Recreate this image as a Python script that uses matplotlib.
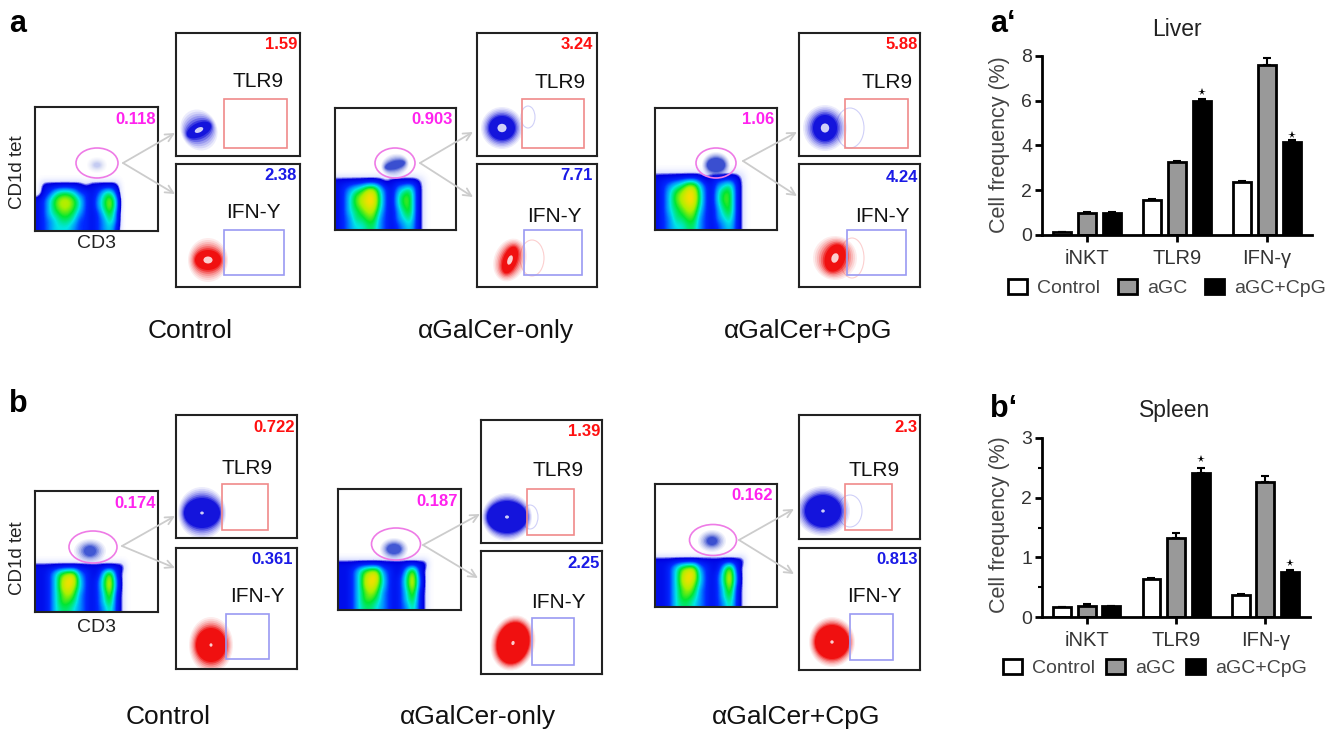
import numpy as np
import matplotlib
matplotlib.use('Agg')
import matplotlib.pyplot as plt
from matplotlib.colors import LinearSegmentedColormap
from matplotlib.patches import Ellipse, Rectangle

W, H = 1338, 733
plt.rcParams['font.family'] = ['Liberation Sans', 'DejaVu Sans']

# Bar chart values
groups = ['iNKT', 'TLR9', 'IFN-γ']
series = ['Control', 'aGC', 'aGC+CpG']
liver_control = [0.12, 1.55, 2.35]
liver_agc = [1.0, 3.25, 7.6]
liver_cpg = [1.0, 6.0, 4.15]
liver_err_control = [0.02, 0.05, 0.05]
liver_err_agc = [0.03, 0.05, 0.3]
liver_err_cpg = [0.03, 0.08, 0.08]
liver_stars = [6.4, 4.46]
spleen_control = [0.16, 0.63, 0.37]
spleen_agc = [0.19, 1.33, 2.27]
spleen_cpg = [0.18, 2.42, 0.75]
spleen_err_control = [0.01, 0.03, 0.02]
spleen_err_agc = [0.02, 0.08, 0.09]
spleen_err_cpg = [0.01, 0.07, 0.03]
spleen_stars = [2.65, 0.9]

# Gate percentages, one per treatment
treatments = ['Control', 'αGalCer-only', 'αGalCer+CpG']
liver_inkt = ['0.118', '0.903', '1.06']
liver_tlr9 = ['1.59', '3.24', '5.88']
liver_ifn = ['2.38', '7.71', '4.24']
spleen_inkt = ['0.174', '0.187', '0.162']
spleen_tlr9 = ['0.722', '1.39', '2.3']
spleen_ifn = ['0.361', '2.25', '0.813']

# CD3 / CD1d density, digits 0-9 (top row first)
density_ctrl = ['0000000000000000',
                '0222222212222200',
                '0235665332356300',
                '2357887532468500',
                '2357887532468500',
                '2356776432357400',
                '2345665332346400',
                '2345554332345300']
density_agc = ['0000000000000000',
               '2222222212222210',
               '2345688532456310',
               '2357899632577310',
               '2357899632577310',
               '2356788532467310',
               '2346677432456310',
               '2345566432345310']
density_spleen = ['0000000000000000',
                  '2222222222222220',
                  '2235788432258310',
                  '2235899532369410',
                  '2235898532369410',
                  '2235787432358310',
                  '2235776432357310',
                  '2235665432346310']

density_cmap = LinearSegmentedColormap.from_list('flow', [
    (0.0, '#ffffff'), (0.1, '#dfe3ff'), (0.16, '#0000e0'), (0.33, '#0028ff'),
    (0.44, '#008cff'), (0.56, '#00e6e6'), (0.72, '#00e632'),
    (0.86, '#aaf000'), (1.0, '#ffdc00')])

# Layout in reference pixels: x0, x1, y0, y1
row_a = dict(
    main=[(35, 158, 107, 231), (335, 456, 108, 230), (655, 777, 108, 230)],
    top=[(176, 300, 33, 156), (477, 597, 33, 156), (799, 920, 33, 156)],
    low=[(176, 300, 164, 287), (477, 597, 164, 287), (799, 920, 164, 287)],
    top_gate=[(224, 287, 99, 148), (522, 584, 99, 148), (845, 908, 99, 148)],
    low_gate=[(224, 284, 230, 275), (524, 582, 230, 275), (847, 906, 230, 275)],
    ellipse=[(97, 163, 42, 30), (395, 163, 40, 30), (716, 163, 40, 30)],
    apex=[(123, 163), (420, 163), (743, 161)],
    tip_top=[(175, 133), (473, 132), (797, 132)],
    tip_low=[(175, 194), (473, 197), (797, 196)],
    density=[density_ctrl, density_agc, density_agc],
    dens_y=[(175, 231), (170, 230), (165, 230)],
    top_txt=[(258, 82), (560, 83), (887, 83)],
    low_txt=[(253, 213), (554, 217), (882, 217)],
    main_num=[(156, 119), (453, 119), (774, 120)],
    top_num=[(297, 45), (593, 45), (918, 45)],
    low_num=[(297, 176), (593, 176), (918, 178)],
    name_x=[190, 496, 808], name_y=331, hole=0.7,
    # populations: cx, cy, rx, ry, angle, core rx, core ry
    top_pop=[(199, 130, 18, 21, -25, 13, 7), (502, 128, 21, 21, 0, 13, 12), (825, 128, 22, 23, 0, 12, 13)],
    low_pop=[(208, 260, 20, 22, 0, 13, 10), (510, 260, 16, 22, 20, 7, 14), (835, 258, 22, 22, 20, 10, 14)],
    main_pop=[(97, 165, 10, 8, 0, 3, 2), (395, 165, 14, 11, -15, 10, 4), (716, 165, 14, 13, 0, 9, 7)],
    main_core=['#c4cbf2', '#3a4fd0', '#3a4fd0'],
    top_spill=[None, (528, 117, 7, 11), (850, 128, 14, 20)],
    low_spill=[None, (532, 258, 12, 18), (852, 258, 12, 20)],
)
row_b = dict(
    main=[(35, 158, 491, 612), (338, 461, 489, 610), (655, 777, 484, 607)],
    top=[(176, 297, 415, 538), (481, 602, 420, 543), (799, 920, 415, 539)],
    low=[(176, 297, 548, 669), (481, 602, 551, 674), (799, 920, 548, 670)],
    top_gate=[(222, 268, 484, 530), (527, 574, 489, 535), (845, 892, 484, 530)],
    low_gate=[(226, 269, 614, 659), (532, 574, 618, 665), (850, 893, 614, 660)],
    ellipse=[(93, 547, 48, 32), (396, 544, 49, 32), (713, 540, 47, 31)],
    apex=[(122, 546), (423, 545), (739, 540)],
    tip_top=[(175, 516), (480, 514), (794, 509)],
    tip_low=[(175, 568), (478, 578), (794, 574)],
    density=[density_spleen, density_spleen, density_spleen],
    dens_y=[(556, 612), (553, 610), (550, 607)],
    top_txt=[(247, 468), (558, 471), (874, 471)],
    low_txt=[(257, 597), (558, 602), (874, 597)],
    main_num=[(156, 504), (458, 502), (773, 496)],
    top_num=[(295, 427), (600, 432), (918, 427)],
    low_num=[(293, 560), (600, 564), (918, 559)],
    name_x=[168, 478, 796], name_y=717, hole=0.2,
    top_pop=[(202, 513, 24, 26, 0, 18, 15), (507, 517, 25, 24, 0, 20, 16), (823, 511, 27, 25, 0, 18, 16)],
    low_pop=[(211, 645, 22, 28, 0, 15, 17), (513, 643, 22, 28, 15, 16, 21), (832, 642, 23, 25, 0, 17, 17)],
    main_pop=[(90, 551, 16, 12, 0, 6, 5), (394, 549, 14, 11, 0, 7, 5), (712, 541, 14, 11, 0, 5, 4)],
    main_core=['#4258d4', '#4258d4', '#3a4fd0'],
    top_spill=[None, (530, 517, 8, 12), (850, 511, 12, 16)],
    low_spill=[None, None, None],
)

fig = plt.figure(figsize=(W / 100, H / 100), dpi=100)
# full figure overlay in pixel coordinates, for arrows and loose labels
ov = fig.add_axes([0, 0, 1, 1])
ov.set_xlim(0, W)
ov.set_ylim(H, 0)
ov.axis('off')
ov.set_zorder(10)


def px_axes(box):
    x0, x1, y0, y1 = box
    ax = fig.add_axes([x0 / W, 1 - y1 / H, (x1 - x0) / W, (y1 - y0) / H])
    ax.set_xlim(x0, x1)
    ax.set_ylim(y1, y0)
    ax.set_xticks([])
    ax.set_yticks([])
    for s in ax.spines.values():
        s.set_linewidth(1.5)
        s.set_color('#222222')
    return ax


def draw_pop(ax, pop, color, core=None, hole=0.2):
    cx, cy, rx, ry, ang, crx, cry = pop
    core = core or color
    alphas = [0.08, 0.1, 0.14, 0.2, 0.32, 0.55]
    for f, a in zip(np.linspace(0, 0.85, 6), alphas):
        ax.add_patch(Ellipse((cx, cy), 2 * (rx + (crx - rx) * f), 2 * (ry + (cry - ry) * f),
                             angle=ang, fc=core, alpha=a, lw=0))
    ax.add_patch(Ellipse((cx, cy), 2 * crx, 2 * cry, angle=ang, fc=core, lw=0))
    if color == core:
        ax.add_patch(Ellipse((cx, cy), hole * crx, hole * cry, angle=ang, fc='white', alpha=0.8, lw=0))


def draw_row(r, inkt, tlr9, ifn):
    for i in range(3):
        # CD3 vs CD1d tet
        ax = px_axes(r['main'][i])
        grid = np.array([[int(c) for c in row] for row in r['density'][i]]) / 9
        x0 = r['main'][i][0]
        y0, y1 = r['dens_y'][i]
        ax.imshow(grid, cmap=density_cmap, vmin=0, vmax=1, aspect='auto', extent=(x0, x0 + 96, y1, y0),
                  interpolation='bicubic', interpolation_stage='data')
        ax.set_xlim(r['main'][i][:2])
        ax.set_ylim(r['main'][i][3], r['main'][i][2])
        draw_pop(ax, r['main_pop'][i], '#8090e0', r['main_core'][i])
        cx, cy, ew, eh = r['ellipse'][i]
        ax.add_patch(Ellipse((cx, cy), ew, eh, fc='none', ec='#ee7be6', lw=1.2))
        nx, ny = r['main_num'][i]
        ax.text(nx, ny, inkt[i], color='#ff22ee', fontsize=12, fontweight='bold', ha='right', va='center')

        # TLR9 and IFN-y boxes
        for key, gate, pop, spill, col, gc, num, numxy, txt, txy in [
            ('top', 'top_gate', 'top_pop', 'top_spill', '#1414dc', '#f08a8a', tlr9, 'top_num', 'TLR9', 'top_txt'),
            ('low', 'low_gate', 'low_pop', 'low_spill', '#f01010', '#9a9af2', ifn, 'low_num', 'IFN-Y', 'low_txt'),
        ]:
            ax = px_axes(r[key][i])
            draw_pop(ax, r[pop][i], col, hole=r['hole'])
            if r[spill][i]:
                sx, sy, srx, sry = r[spill][i]
                ax.add_patch(Ellipse((sx, sy), 2 * srx, 2 * sry, fc='none', ec=col, alpha=0.2, lw=0.8))
            gx0, gx1, gy0, gy1 = r[gate][i]
            ax.add_patch(Rectangle((gx0, gy0), gx1 - gx0, gy1 - gy0, fc='none', ec=gc, lw=1.2))
            nx, ny = r[numxy][i]
            num_col = '#ff1010' if key == 'top' else '#1a1ae6'
            ax.text(nx, ny, num[i], color=num_col, fontsize=12, fontweight='bold', ha='right', va='center')
            tx, ty = r[txy][i]
            ax.text(tx, ty, txt, color='#111111', fontsize=15, ha='center', va='center')

        # gating arrows
        for tip in (r['tip_top'][i], r['tip_low'][i]):
            ov.annotate('', xy=tip, xytext=r['apex'][i],
                        arrowprops=dict(arrowstyle='->', color='#cccccc', lw=1.3, shrinkA=0, shrinkB=0,
                                        mutation_scale=14))
        ov.text(r['name_x'][i], r['name_y'], treatments[i], fontsize=19, color='#111111', ha='center', va='center')


def draw_bars(box, title, title_x, title_y, ylim, yticks, minor, c, a, g, ec, ea, eg, stars,
              leg_xy, col_space, ylab_y):
    x0, x1, y0, y1 = box
    ax = fig.add_axes([x0 / W, 1 - y1 / H, (x1 - x0) / W, (y1 - y0) / H])
    xs = np.arange(len(groups))
    w = 0.2
    styles = [('white', c, ec, -0.275), ('#999999', a, ea, 0), ('black', g, eg, 0.275)]
    for (name, (fc, v, e, off)) in zip(series, styles):
        ax.bar(xs + off, v, width=w, fc=fc, ec='black', lw=2, label=name, zorder=2,
               yerr=[np.zeros(len(e)), e], capsize=3,
               error_kw=dict(ecolor='black', elinewidth=1.5, capthick=1.5, zorder=1))
    ax.plot(xs[1:] + 0.275, stars, ls='none', marker='*', color='black', ms=5.5, mew=0)
    ax.set_xlim(-0.5, 2.5)
    ax.set_ylim(*ylim)
    ax.set_xticks(xs)
    ax.set_xticklabels(groups, fontsize=14.5, color='#333333')
    ax.set_yticks(yticks)
    ax.set_yticks(minor, minor=True)
    ax.tick_params(axis='y', labelsize=14, width=2, length=5, pad=2, labelcolor='#333333')
    ax.tick_params(axis='y', which='minor', width=1.5, length=3)
    ax.tick_params(axis='x', width=2, length=5, pad=5)
    ax.spines[['top', 'right']].set_visible(False)
    ax.spines[['left', 'bottom']].set_linewidth(2)
    ax.patch.set_alpha(0)
    ov.text(1000, ylab_y, 'Cell frequency (%)', fontsize=15.5, color='#444444', rotation=90, ha='center', va='center')
    ov.text(title_x, title_y, title, fontsize=16.5, color='#222222', ha='center', va='center')
    ax.legend(loc='center left', bbox_to_anchor=(leg_xy[0] / W, 1 - leg_xy[1] / H), bbox_transform=fig.transFigure,
              ncol=3, frameon=False, fontsize=14, borderpad=0, borderaxespad=0, handlelength=1.0, handleheight=0.8,
              handletextpad=0.5, columnspacing=col_space, labelcolor='#444444')


draw_row(row_a, liver_inkt, liver_tlr9, liver_ifn)
draw_row(row_b, spleen_inkt, spleen_tlr9, spleen_ifn)

draw_bars((1042, 1312, 56, 235), 'Liver', 1177, 30, (0, 8), [0, 2, 4, 6, 8], [],
          liver_control, liver_agc, liver_cpg, liver_err_control, liver_err_agc, liver_err_cpg, liver_stars,
          (1008, 288), 0.9, 145)
draw_bars((1042, 1310, 438, 617), 'Spleen', 1175, 410, (0, 3), [0, 1, 2, 3], [0.5, 1.5, 2.5],
          spleen_control, spleen_agc, spleen_cpg, spleen_err_control, spleen_err_agc, spleen_err_cpg, spleen_stars,
          (1003, 668), 0.55, 525)

# panel letters and cytometry axis names
for txt, x, y in [('a', 18, 24), ('b', 18, 404), ('a‘', 990, 24), ('b‘', 990, 409)]:
    ov.text(x, y, txt, fontsize=22, fontweight='bold', ha='left' if x > 100 else 'center', va='center')
for y1, y2 in [(172, 243), (558, 628)]:
    ov.text(17, y1, 'CD1d tet', fontsize=13.5, color='#222222', rotation=90, ha='center', va='center')
    ov.text(97, y2, 'CD3', fontsize=14, color='#222222', ha='center', va='center')

fig.savefig('out.png', dpi=100)
